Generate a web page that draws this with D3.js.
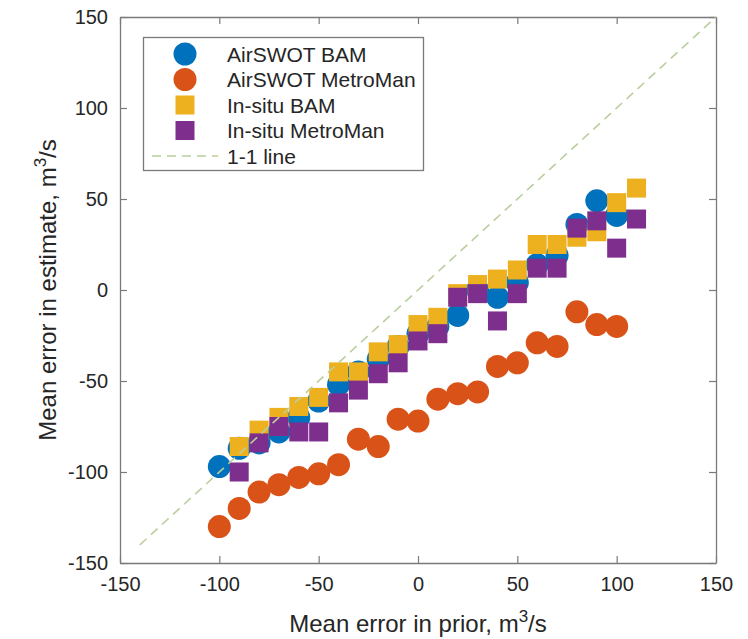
<!DOCTYPE html>
<html>
<head>
<meta charset="utf-8">
<script src="https://cdn.jsdelivr.net/npm/d3@7"></script>
<style>
  body { margin: 0; background: #fff; }
  svg { display: block; font-family: "Liberation Sans", Arial, sans-serif; }
</style>
</head>
<body>
<div class="chart"></div>
<script>
// values (m3/s)
const priorAirBam = [-100, -90, -80, -70, -60, -50, -40, -30, -20, -10, 0, 10, 20, 30, 40, 50, 60, 70, 80, 90, 100];
const estAirBam   = [-97, -87, -84, -78, -70, -61, -52, -45, -38, -31, -24, -20, -14, 0, -4, 4, 14, 19, 36, 49, 41];

const priorAirMm = [-100, -90, -80, -70, -60, -50, -40, -30, -20, -10, 0, 10, 20, 30, 40, 50, 60, 70, 80, 90, 100];
const estAirMm   = [-130, -120, -111, -107, -103, -101, -96, -82, -86, -71, -72, -60, -57, -56, -42, -40, -29, -31, -12, -19, -20];

const priorInBam = [-90, -80, -70, -60, -50, -40, -30, -20, -10, 0, 10, 20, 30, 40, 50, 60, 70, 80, 90, 100, 110];
const estInBam   = [-86, -77, -70, -64, -59, -45, -45, -34, -30, -19, -15, -2, 3, 6, 11, 25, 25, 29, 32, 48, 56];

const priorInMm = [-90, -80, -70, -60, -50, -40, -30, -20, -10, 0, 10, 20, 30, 40, 50, 60, 70, 80, 90, 100, 110];
const estInMm   = [-100, -84, -75, -78, -78, -62, -55, -46, -40, -28, -24, -4, -2, -17, -2, 12, 12, 34, 38, 23, 39];

const oneToOne = [-140, 150];
const ticks = [-150, -100, -50, 0, 50, 100, 150];
const legendLabels = ['AirSWOT BAM', 'AirSWOT MetroMan', 'In-situ BAM', 'In-situ MetroMan', '1-1 line'];

const W = 748, H = 639;
const margin = { left: 120, right: 32, top: 17, bottom: 76 };
const fs = 20;        // tick labels
const fsTitle = 24;   // axis titles
const fsLeg = 21;     // legend
const textCol = '#262626';
const axisCol = '#7a7a7a';
const colors = { blue: '#0072BD', orange: '#D95319', yellow: '#EDB120', purple: '#7E2F8E', line: '#b9cf9c' };

const svg = d3.select('.chart').append('svg')
  .attr('width', W)
  .attr('height', H);

const x = d3.scaleLinear().domain([-150, 150]).range([margin.left, W - margin.right]);
const y = d3.scaleLinear().domain([-150, 150]).range([H - margin.bottom, margin.top]);

// axes with inward ticks on all four sides, plain hyphen minus like matlab
const tk = 7;
const fmt = d => String(d);
const axB = svg.append('g').attr('transform', `translate(0,${y(-150)})`)
  .call(d3.axisBottom(x).tickValues(ticks).tickFormat(fmt).tickSizeInner(-tk).tickSizeOuter(0).tickPadding(14));
const axL = svg.append('g').attr('transform', `translate(${x(-150)},0)`)
  .call(d3.axisLeft(y).tickValues(ticks).tickFormat(fmt).tickSizeInner(-tk).tickSizeOuter(0).tickPadding(12));
const axT = svg.append('g').attr('transform', `translate(0,${y(150)})`)
  .call(d3.axisTop(x).tickValues(ticks).tickSizeInner(-tk).tickSizeOuter(0).tickFormat(''));
const axR = svg.append('g').attr('transform', `translate(${x(150)},0)`)
  .call(d3.axisRight(y).tickValues(ticks).tickSizeInner(-tk).tickSizeOuter(0).tickFormat(''));

[axB, axL, axT, axR].forEach(g => {
  g.selectAll('.domain').attr('stroke', axisCol).attr('stroke-width', 1.3);
  g.selectAll('.tick line').attr('stroke', axisCol).attr('stroke-width', 1.2);
  g.selectAll('.tick text').attr('fill', textCol).style('font-size', fs + 'px').style('font-family', '"Liberation Sans", Arial, sans-serif');
});

// markers
const r = 11.5, sq = 19;
function circles(px, py, col) {
  svg.append('g').selectAll('circle')
    .data(px.map((d, i) => [d, py[i]]))
    .join('circle')
    .attr('cx', d => x(d[0]))
    .attr('cy', d => y(d[1]))
    .attr('r', r)
    .attr('fill', col);
}
function squares(px, py, col) {
  svg.append('g').selectAll('rect')
    .data(px.map((d, i) => [d, py[i]]))
    .join('rect')
    .attr('x', d => x(d[0]) - sq / 2)
    .attr('y', d => y(d[1]) - sq / 2)
    .attr('width', sq)
    .attr('height', sq)
    .attr('fill', col);
}
circles(priorAirBam, estAirBam, colors.blue);
circles(priorAirMm, estAirMm, colors.orange);
squares(priorInBam, estInBam, colors.yellow);
squares(priorInMm, estInMm, colors.purple);

svg.append('line')
  .attr('x1', x(oneToOne[0])).attr('y1', y(oneToOne[0]))
  .attr('x2', x(oneToOne[1])).attr('y2', y(oneToOne[1]))
  .attr('stroke', colors.line)
  .attr('stroke-width', 1.6)
  .attr('stroke-dasharray', '9,6');

// axis titles
const xt = svg.append('text')
  .attr('x', (x(-150) + x(150)) / 2)
  .attr('y', 632)
  .attr('text-anchor', 'middle')
  .attr('fill', textCol)
  .style('font-size', fsTitle + 'px');
xt.append('tspan').text('Mean error in prior, m');
xt.append('tspan').attr('dy', -10).style('font-size', '17px').text('3');
xt.append('tspan').attr('dy', 10).text('/s');

const yt = svg.append('text')
  .attr('transform', `translate(56,${(y(-150) + y(150)) / 2}) rotate(-90)`)
  .attr('text-anchor', 'middle')
  .attr('fill', textCol)
  .style('font-size', fsTitle + 'px');
yt.append('tspan').text('Mean error in estimate, m');
yt.append('tspan').attr('dy', -10).style('font-size', '17px').text('3');
yt.append('tspan').attr('dy', 10).text('/s');

// legend
const leg = svg.append('g');
leg.append('rect')
  .attr('x', 143.5).attr('y', 37.5)
  .attr('width', 280).attr('height', 133)
  .attr('fill', '#fff')
  .attr('stroke', axisCol)
  .attr('stroke-width', 1.3);
const legKinds = ['circle', 'circle', 'square', 'square', 'line'];
const legCols = [colors.blue, colors.orange, colors.yellow, colors.purple, colors.line];
legendLabels.forEach((lab, i) => {
  const cy = 54 + i * 25.5;
  if (legKinds[i] === 'circle') {
    leg.append('circle').attr('cx', 185).attr('cy', cy).attr('r', r).attr('fill', legCols[i]);
  } else if (legKinds[i] === 'square') {
    leg.append('rect').attr('x', 185 - sq / 2).attr('y', cy - sq / 2).attr('width', sq).attr('height', sq).attr('fill', legCols[i]);
  } else {
    leg.append('line').attr('x1', 152).attr('x2', 218).attr('y1', cy).attr('y2', cy)
      .attr('stroke', legCols[i]).attr('stroke-width', 1.6).attr('stroke-dasharray', '9,6');
  }
  leg.append('text')
    .attr('x', 227).attr('y', cy)
    .attr('dy', '0.36em')
    .attr('fill', textCol)
    .style('font-size', fsLeg + 'px')
    .text(lab);
});
</script>
</body>
</html>
